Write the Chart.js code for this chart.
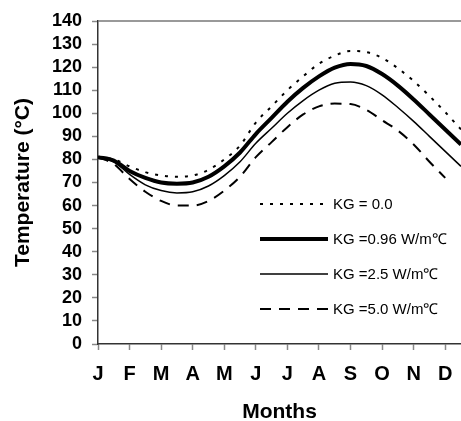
<!DOCTYPE html>
<html>
<head>
<meta charset="utf-8">
<script src="https://cdn.jsdelivr.net/npm/chart.js@4.4.1/dist/chart.umd.min.js"></script>
<style>
  html, body { margin: 0; padding: 0; background: #fff; }
  #wrap { width: 461px; height: 421px; }
</style>
</head>
<body>
<div id="wrap"><canvas id="chart"></canvas></div>
<script>
// month labels shown under the x axis (tick at 0 = J ... 11 = D)
const monthLabels = ['J', 'F', 'M', 'A', 'M', 'J', 'J', 'A', 'S', 'O', 'N', 'D'];
// sample positions in months, read every half month
const monthPos = [0, 0.5, 1, 1.5, 2, 2.5, 3, 3.5, 4, 4.5, 5, 5.5, 6, 6.5, 7, 7.5, 8, 8.5, 9, 9.5, 10, 10.5, 11, 11.5];

const kg00  = [81, 80, 77, 74.5, 73, 72.5, 73, 75.5, 80, 86, 96, 103, 110, 116, 121.5, 125, 127, 126.5, 124, 119.5, 114, 107.5, 100.5, 93];
const kg096 = [81, 79.5, 75, 72, 70, 69.5, 70, 72.5, 77, 83, 91, 98, 105, 111, 116, 119.8, 121.4, 120.5, 117, 112, 106, 99.5, 93, 86.5];
const kg25  = [81, 79, 73.5, 69, 66.5, 65.5, 66, 68.5, 73, 79, 87, 93.5, 100, 105.5, 110, 113, 113.6, 112, 108, 102.5, 96.5, 90, 83.5, 77];
const kg50  = [81, 78, 71.5, 66, 62, 60, 60, 62, 66.5, 72.5, 81, 87.5, 94, 99.5, 103, 104.2, 104, 101.5, 97, 92.5, 86.5, 79, 72];

const seriesLabels = ['KG = 0.0', 'KG =0.96 W/m\u2103', 'KG =2.5 W/m\u2103', 'KG =5.0 W/m\u2103'];

const FONT = "'Liberation Sans', Arial, sans-serif";

function toPoints(values) {
    return values.map((v, i) => ({ x: monthPos[i], y: v }));
}

// legend drawn inside the plot, lower right, like the original
const insideLegend = {
    id: 'insideLegend',
    afterDatasetsDraw(chart) {
        const ctx = chart.ctx;
        const rows = [204, 239, 274, 309];
        ctx.save();
        chart.data.datasets.forEach((ds, i) => {
            const y = rows[i];
            ctx.beginPath();
            ctx.strokeStyle = ds.borderColor;
            ctx.lineWidth = ds.borderWidth;
            ctx.setLineDash(ds.borderDash || []);
            ctx.moveTo(260, y);
            ctx.lineTo(328, y);
            ctx.stroke();
            ctx.setLineDash([]);
            ctx.fillStyle = '#000';
            ctx.font = '15px ' + FONT;
            ctx.textBaseline = 'middle';
            ctx.textAlign = 'left';
            ctx.fillText(ds.label, 333, y + 1);
        });
        ctx.restore();
    }
};

// thin frame line along the top of the plot
const topLine = {
    id: 'topLine',
    beforeDatasetsDraw(chart) {
        const { ctx, chartArea } = chart;
        ctx.save();
        ctx.strokeStyle = '#777';
        ctx.lineWidth = 1.5;
        ctx.beginPath();
        ctx.moveTo(chartArea.left, chartArea.top);
        ctx.lineTo(chartArea.right, chartArea.top);
        ctx.stroke();
        ctx.restore();
    }
};

new Chart(document.getElementById('chart'), {
    type: 'line',
    data: {
        datasets: [
            {
                label: seriesLabels[0],
                data: toPoints(kg00),
                borderColor: '#000',
                borderWidth: 2,
                borderDash: [3, 7]
            },
            {
                label: seriesLabels[1],
                data: toPoints(kg096),
                borderColor: '#000',
                borderWidth: 4
            },
            {
                label: seriesLabels[2],
                data: toPoints(kg25),
                borderColor: '#000',
                borderWidth: 1.5
            },
            {
                label: seriesLabels[3],
                data: toPoints(kg50),
                borderColor: '#000',
                borderWidth: 2,
                borderDash: [11, 8]
            }
        ]
    },
    options: {
        responsive: true,
        maintainAspectRatio: false,
        animation: false,
        layout: { padding: { top: 21, right: 0, left: 0, bottom: 0 } },
        elements: {
            point: { radius: 0 },
            line: { cubicInterpolationMode: 'monotone', fill: false }
        },
        plugins: {
            legend: { display: false },
            tooltip: { enabled: false }
        },
        scales: {
            x: {
                type: 'linear',
                min: 0,
                max: 11.5,
                afterFit: s => {
                    s.height = 77;
                    s.paddingLeft = 0;
                    s.paddingRight = 0;
                },
                afterBuildTicks: s => {
                    s.ticks = monthLabels.map((_, i) => ({ value: i }));
                },
                ticks: {
                    autoSkip: false,
                    maxRotation: 0,
                    padding: 12,
                    color: '#000',
                    font: { family: FONT, size: 20, weight: 'bold' },
                    callback: v => monthLabels[v] || ''
                },
                grid: {
                    drawOnChartArea: false,
                    drawTicks: true,
                    tickLength: 6,
                    tickColor: '#888',
                    tickWidth: 1.5
                },
                border: { display: true, color: '#333', width: 1.5 },
                title: {
                    display: true,
                    text: 'Months',
                    color: '#000',
                    font: { family: FONT, size: 21, weight: 'bold' },
                    padding: { top: 4, bottom: -4 }
                }
            },
            y: {
                min: 0,
                max: 140,
                afterFit: s => {
                    s.width = 98;
                    s.paddingTop = 0;
                    s.paddingBottom = 0;
                },
                ticks: {
                    stepSize: 10,
                    autoSkip: false,
                    padding: 10,
                    color: '#000',
                    font: { family: FONT, size: 18, weight: 'bold' }
                },
                grid: {
                    drawOnChartArea: false,
                    drawTicks: true,
                    tickLength: 6,
                    tickColor: '#888',
                    tickWidth: 1.5
                },
                border: { display: true, color: '#333', width: 1.5 },
                title: {
                    display: true,
                    text: 'Temperature (\u00B0C)',
                    color: '#000',
                    font: { family: FONT, size: 21, weight: 'bold' },
                    padding: { top: 11, bottom: 0 }
                }
            }
        }
    },
    plugins: [topLine, insideLegend]
});
</script>
</body>
</html>
